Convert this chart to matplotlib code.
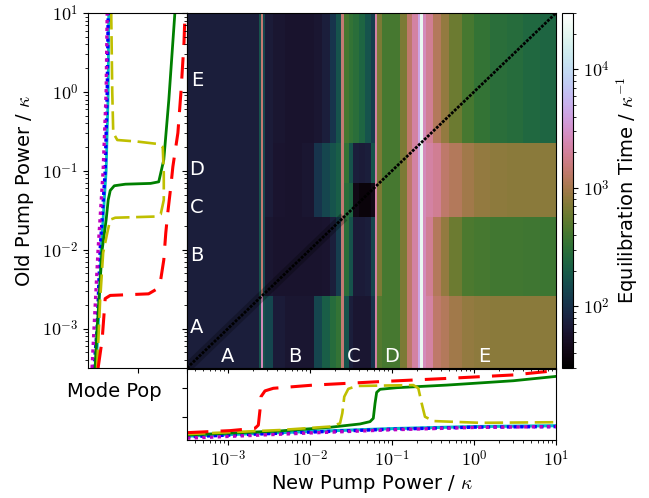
import numpy as np
import matplotlib
matplotlib.use("Agg")
import matplotlib.pyplot as plt
from matplotlib.colors import LogNorm
from matplotlib import ticker

plt.rcParams['mathtext.fontset'] = 'cm'
plt.rcParams['font.family'] = ['DejaVu Sans']

# pump power range (log10, units of kappa)
P_LOG_MIN, P_LOG_MAX = -3.5, 1.0

# heatmap grid: new pump power columns (log10) and old pump power bands (log10)
X_EDGES_LOG = [-3.5, -2.62, -2.60, -2.575, -2.55, -2.45, -2.3, -2.1, -1.95, -1.85,
               -1.75, -1.68, -1.62, -1.59, -1.52, -1.47, -1.40, -1.33, -1.26, -1.21,
               -1.185, -1.12, -1.0, -0.9, -0.82, -0.75, -0.68, -0.66, -0.62, -0.58,
               -0.5, -0.4, -0.3, -0.15, 0.0, 0.2, 0.4, 0.6, 0.8, 1.0]
OLD_EDGES_LOG = [-3.5, -2.59, -1.585, -1.155, -0.648, 1.0]

# equilibration time (1/kappa) for each old-pump band, one value per column
TIME_A = [73, 169, 2676, 169, 138, 69, 62, 62, 138, 208, 275, 337,
          1437, 169, 73, 62, 62, 62, 104, 2175,
          475, 415, 415, 672, 1341, 2175, 4340, 21300,
          2676, 2175, 1341, 1168, 949, 850, 800, 772, 772, 772, 772]
TIME_B = [73, 169, 1437, 138, 62, 58, 58, 58, 58, 60, 73, 120,
          1437, 294, 169, 69, 69, 73, 138, 2175,
          672, 415, 415, 672, 1341, 2175, 4340, 21300,
          2676, 1893, 1168, 850, 585, 440, 415, 400, 390, 380, 370]
TIME_C = [73, 169, 1437, 138, 69, 60, 58, 62, 104, 138, 169, 208,
          1437, 294, 239, 42, 36, 36, 42, 2175,
          672, 415, 415, 672, 1341, 2175, 4340, 21300,
          2676, 2175, 1893, 1341, 1168, 949, 850, 800, 772, 772, 772]
TIME_D = [73, 169, 1437, 138, 69, 60, 58, 62, 104, 138, 169, 208,
          1437, 337, 169, 73, 69, 73, 169, 2175,
          672, 415, 415, 672, 1341, 2175, 4340, 21300,
          2676, 2175, 1893, 1341, 1168, 949, 850, 800, 772, 772, 772]
TIME_E = [73, 169, 1437, 138, 69, 62, 58, 58, 62, 73, 104, 169,
          1437, 415, 337, 294, 239, 169, 120, 2175,
          672, 415, 415, 672, 1341, 2175, 4340, 21300,
          2676, 1893, 1168, 850, 585, 415, 337, 294, 275, 250, 239]
T_MIN, T_MAX = 30, 3.0e4
DARK_END_LOG = -1.585  # diagonal darkening up to the B/C boundary

# mode populations vs old pump power (left panel), log10 values
LEFT_BLUE_P = [-3.5, -3.0, -2.0, -1.0, 0.0, 1.0]
LEFT_BLUE = [-0.878, -0.816, -0.755, -0.653, -0.612, -0.592]
LEFT_MAGENTA = [-0.918, -0.878, -0.796, -0.694, -0.633, -0.612]
LEFT_CYAN = [-0.837, -0.796, -0.735, -0.633, -0.592, -0.582]
LEFT_GREEN_P = [-3.5, -3.0, -2.5, -2.0, -1.62, -1.37, -1.25, -1.19, -1.17, -1.16, -1.14, -0.86, -0.1, 1.0]
LEFT_GREEN = [-0.857, -0.816, -0.765, -0.714, -0.633, -0.592, -0.551, -0.469, -0.245, 0.265, 0.429, 0.531, 0.633, 0.755]
LEFT_YELLOW_P = [-3.5, -2.64, -2.04, -1.79, -1.62, -1.595, -1.58, -1.55, -1.37, -1.03, -0.70, -0.66, -0.63, -0.61, -0.52, 0.0, 1.0]
LEFT_YELLOW = [-0.816, -0.755, -0.694, -0.612, -0.551, -0.449, 0.367, 0.469, 0.531, 0.531, 0.51, 0.408, 0.0, -0.408, -0.49, -0.51, -0.531]
LEFT_RED_P = [-3.5, -3.14, -2.62, -2.58, -2.56, -2.50, -2.38, -2.13, -1.79, -1.53, -1.2, -0.95, -0.52, 0.0, 0.62, 1.0]
LEFT_RED = [-0.796, -0.714, -0.653, -0.551, 0.224, 0.388, 0.469, 0.531, 0.571, 0.612, 0.673, 0.714, 0.816, 0.878, 0.939, 0.959]

# mode populations vs new pump power (bottom panel), log10 values
BOT_RED_P = [-3.5, -2.976, -2.671, -2.63, -2.61, -2.598, -2.549, -2.447, -1.96, -1.146, -0.333, 0.48, 1.0]
BOT_RED = [-0.54, -0.47, -0.39, -0.28, 0.24, 0.70, 0.90, 0.99, 1.10, 1.22, 1.33, 1.45, 1.6]
BOT_GREEN_P = [-3.5, -2.366, -1.756, -1.39, -1.268, -1.228, -1.207, -1.187, -1.146, -0.943, -0.333, 0.48, 1.0]
BOT_GREEN = [-0.62, -0.48, -0.355, -0.24, -0.16, -0.045, 0.47, 0.85, 0.955, 1.01, 1.10, 1.25, 1.40]
BOT_YELLOW_P = [-3.5, -2.366, -1.756, -1.634, -1.606, -1.582, -1.533, -1.431, -0.74, -0.679, -0.638, -0.598, -0.496, 0.073, 1.0]
BOT_YELLOW = [-0.59, -0.45, -0.33, -0.22, 0.13, 0.70, 0.97, 1.07, 1.10, 0.99, 0.47, 0.01, -0.14, -0.20, -0.18]
BOT_LOW_P = [-3.5, -2.0, -1.0, 0.0, 1.0]
BOT_BLUE = [-0.68, -0.52, -0.42, -0.35, -0.33]
BOT_MAGENTA = [-0.73, -0.55, -0.44, -0.36, -0.33]
BOT_CYAN = [-0.66, -0.50, -0.40, -0.33, -0.30]

LEFT_POP_LIM = (-1.0, 1.0)
BOT_POP_LIM = (-0.793, 1.655)

REGIONS = ['A', 'B', 'C', 'D', 'E']
REGION_NEW_LOG = [-3.01, -2.18, -1.47, -1.0, 0.12]
REGION_OLD_LOG = [-2.99, -2.07, -1.46, -0.98, 0.14]
LETTER_OLD_LOG = -3.36
LETTER_NEW_LOG = -3.38

W, H = 649, 498


def box(x0, y0, x1, y1):
    return [x0 / W, 1 - y1 / H, (x1 - x0) / W, (y1 - y0) / H]


def pow10(v):
    return 10.0 ** np.asarray(v, dtype=float)


def decade_fmt(v, pos):
    return r'$10^{%d}$' % int(round(np.log10(v)))


fig = plt.figure(figsize=(W / 100, H / 100), dpi=100)
ax_left = fig.add_axes(box(88, 13, 187, 368))
ax_bot = fig.add_axes(box(187, 369, 556, 440))
ax = fig.add_axes(box(187, 13, 556, 368))
cax = fig.add_axes(box(562, 13, 573, 368))

p_lim = (10 ** P_LOG_MIN, 10 ** P_LOG_MAX)

# heatmap
Z = np.array([TIME_A, TIME_B, TIME_C, TIME_D, TIME_E])
mesh = ax.pcolormesh(pow10(X_EDGES_LOG), pow10(OLD_EDGES_LOG), Z, cmap='cubehelix',
                     norm=LogNorm(vmin=T_MIN, vmax=T_MAX), shading='flat')
dark = [p_lim[0], 10 ** DARK_END_LOG]
ax.plot(dark, dark, color='k', lw=7, alpha=0.25, solid_capstyle='butt')
ax.plot(p_lim, p_lim, color='k', lw=2.0, ls=(0, (1.0, 0.5)))
ax.set_xscale('log')
ax.set_yscale('log')
ax.set_xlim(p_lim)
ax.set_ylim(p_lim)
ax.tick_params(which='both', labelbottom=False, labelleft=False)
for name, xl in zip(REGIONS, REGION_NEW_LOG):
    ax.text(10 ** xl, 10 ** LETTER_OLD_LOG, name, color='white', fontsize=14,
            ha='center', va='center')
for name, yl in zip(REGIONS, REGION_OLD_LOG):
    ax.text(10 ** LETTER_NEW_LOG, 10 ** yl, name, color='white', fontsize=14,
            ha='center', va='center')

cb = fig.colorbar(mesh, cax=cax)
cb.ax.yaxis.set_major_formatter(ticker.FuncFormatter(decade_fmt))
cb.ax.tick_params(labelsize=13)
cb.set_label(r'Equilibration Time / $\kappa^{-1}$', fontsize=14, labelpad=4)

# left panel: mode populations vs old pump power
ax_left.plot(pow10(LEFT_CYAN), pow10(LEFT_BLUE_P), color='c', lw=2.0)
ax_left.plot(pow10(LEFT_BLUE), pow10(LEFT_BLUE_P), color='b', ls=(0, (1, 1)), lw=2.4)
ax_left.plot(pow10(LEFT_MAGENTA), pow10(LEFT_BLUE_P), color='m', ls=(0, (1, 1.3)), lw=2.4)
ax_left.plot(pow10(LEFT_GREEN), pow10(LEFT_GREEN_P), color='g', lw=2.0)
ax_left.plot(pow10(LEFT_YELLOW), pow10(LEFT_YELLOW_P), color='y', ls=(0, (7, 2.5)), lw=1.9)
ax_left.plot(pow10(LEFT_RED), pow10(LEFT_RED_P), color='r', ls=(0, (7, 4)), lw=2.2)
ax_left.set_xscale('log')
ax_left.set_yscale('log')
ax_left.set_xlim(pow10(LEFT_POP_LIM))
ax_left.set_ylim(p_lim)
ax_left.xaxis.set_major_locator(ticker.FixedLocator([1, 10]))
ax_left.xaxis.set_minor_locator(ticker.NullLocator())
ax_left.xaxis.set_major_formatter(ticker.NullFormatter())
ax_left.yaxis.set_major_formatter(ticker.FuncFormatter(decade_fmt))
ax_left.tick_params(labelsize=13)
ax_left.set_ylabel(r'Old Pump Power / $\kappa$', fontsize=14, labelpad=4)

# bottom panel: mode populations vs new pump power
ax_bot.plot(pow10(BOT_LOW_P), pow10(BOT_CYAN), color='c', lw=2.2)
ax_bot.plot(pow10(BOT_LOW_P), pow10(BOT_BLUE), color='b', ls=(0, (1, 1)), lw=2.4)
ax_bot.plot(pow10(BOT_LOW_P), pow10(BOT_MAGENTA), color='m', ls=(0, (1, 1.3)), lw=2.4)
ax_bot.plot(pow10(BOT_GREEN_P), pow10(BOT_GREEN), color='g', lw=2.0)
ax_bot.plot(pow10(BOT_YELLOW_P), pow10(BOT_YELLOW), color='y', ls=(0, (7, 2.5)), lw=1.9)
ax_bot.plot(pow10(BOT_RED_P), pow10(BOT_RED), color='r', ls=(0, (7, 4)), lw=2.2)
ax_bot.set_xscale('log')
ax_bot.set_yscale('log')
ax_bot.set_xlim(p_lim)
ax_bot.set_ylim(pow10(BOT_POP_LIM))
ax_bot.yaxis.set_major_locator(ticker.FixedLocator([1, 10]))
ax_bot.yaxis.set_minor_locator(ticker.NullLocator())
ax_bot.yaxis.set_major_formatter(ticker.NullFormatter())
ax_bot.xaxis.set_major_formatter(ticker.FuncFormatter(decade_fmt))
ax_bot.tick_params(labelsize=13)
ax_bot.set_xlabel(r'New Pump Power / $\kappa$', fontsize=14, labelpad=2)
ax_bot.set_ylabel('Mode Pop', fontsize=14, rotation=0, ha='right', va='center')
ax_bot.yaxis.set_label_coords(-0.07, 0.68)

fig.savefig('out.png', dpi=100)
